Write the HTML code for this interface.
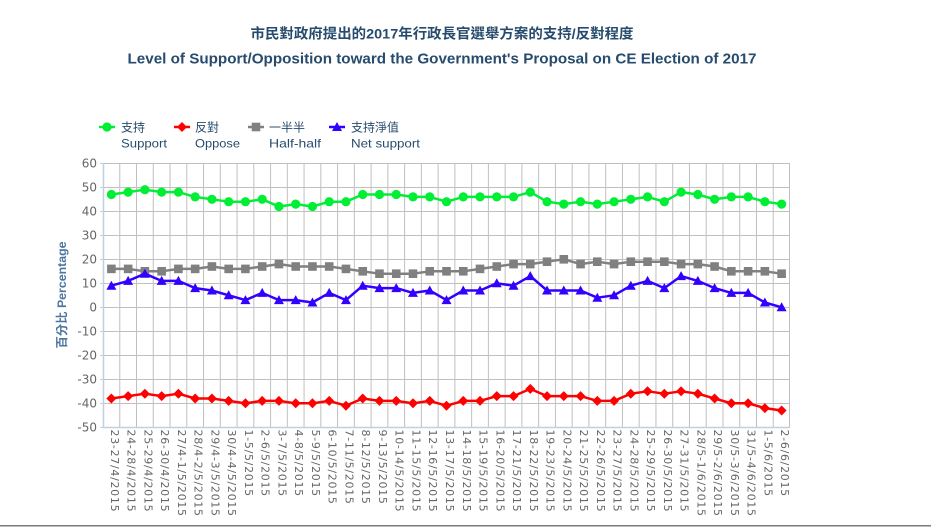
<!DOCTYPE html>
<html>
<head>
<meta charset="utf-8">
<style>
html,body{margin:0;padding:0;background:#fff;}
svg{display:block;}
.xl{font-family:"DejaVu Sans","Liberation Sans",sans-serif;font-size:11px;fill:#666;letter-spacing:0.7px;}
.yl{font-family:"DejaVu Sans","Liberation Sans",sans-serif;font-size:12px;fill:#666;text-anchor:end;}
.lg{font-family:"Liberation Sans","Noto Sans CJK TC",sans-serif;font-size:12px;fill:#274b6d;}
</style>
</head>
<body>
<svg width="931" height="527" viewBox="0 0 931 527" xmlns="http://www.w3.org/2000/svg">
<defs>
<marker id="mc" viewBox="-6 -6 12 12" refX="0" refY="0" markerWidth="12" markerHeight="12" markerUnits="userSpaceOnUse"><circle r="4.6" fill="#00ee33"/></marker>
<marker id="md" viewBox="-6 -6 12 12" refX="0" refY="0" markerWidth="12" markerHeight="12" markerUnits="userSpaceOnUse"><path d="M0,-5 L5,0 L0,5 L-5,0Z" fill="#ff0000"/></marker>
<marker id="ms" viewBox="-6 -6 12 12" refX="0" refY="0" markerWidth="12" markerHeight="12" markerUnits="userSpaceOnUse"><rect x="-4.3" y="-4.3" width="8.6" height="8.6" fill="#808080"/></marker>
<marker id="mt" viewBox="-6 -6 12 12" refX="0" refY="0" markerWidth="12" markerHeight="12" markerUnits="userSpaceOnUse"><path d="M0,-5 L5,4 L-5,4Z" fill="#3300ff"/></marker>
</defs>

<!-- Titles -->
<text x="442" y="38.5" text-anchor="middle" textLength="383" lengthAdjust="spacingAndGlyphs" style="font-family:'Liberation Sans','Noto Sans CJK TC',sans-serif;font-size:14px;font-weight:600;fill:#274b6d;">市民對政府提出的2017年行政長官選舉方案的支持/反對程度</text>
<text x="442" y="63.5" text-anchor="middle" textLength="629" lengthAdjust="spacingAndGlyphs" style="font-family:'Liberation Sans',sans-serif;font-size:15px;font-weight:bold;fill:#274b6d;">Level of Support/Opposition toward the Government's Proposal on CE Election of 2017</text>

<!-- Legend -->
<polyline points="99,127 107,127 115,127" fill="none" stroke="#00ee33" stroke-width="2.5" marker-mid="url(#mc)"/>
<polyline points="174,127 182,127 190,127" fill="none" stroke="#ff0000" stroke-width="2.5" marker-mid="url(#md)"/>
<polyline points="248,127 256,127 264,127" fill="none" stroke="#808080" stroke-width="2.5" marker-mid="url(#ms)"/>
<polyline points="329,127 337,127 345,127" fill="none" stroke="#3300ff" stroke-width="2.5" marker-mid="url(#mt)"/>
<text class="lg" x="121" y="131.5">支持</text>
<text class="lg" x="121" y="147.5" textLength="46" lengthAdjust="spacingAndGlyphs">Support</text>
<text class="lg" x="195" y="131.5">反對</text>
<text class="lg" x="195" y="147.5" textLength="45" lengthAdjust="spacingAndGlyphs">Oppose</text>
<text class="lg" x="269" y="131.5">一半半</text>
<text class="lg" x="269" y="147.5" textLength="52" lengthAdjust="spacingAndGlyphs">Half-half</text>
<text class="lg" x="351" y="131.5">支持淨值</text>
<text class="lg" x="351" y="147.5" textLength="69" lengthAdjust="spacingAndGlyphs">Net support</text>

<!-- Grid horizontal -->
<path d="M103,163.5H790M103,187.5H790M103,211.5H790M103,235.5H790M103,259.5H790M103,283.5H790M103,307.5H790M103,331.5H790M103,355.5H790M103,379.5H790M103,403.5H790" stroke="#c0c0c0" stroke-width="1" fill="none"/>
<!-- Grid vertical -->
<path d="M119.76,163.5V427.5M136.51,163.5V427.5M153.27,163.5V427.5M170.02,163.5V427.5M186.78,163.5V427.5M203.54,163.5V427.5M220.29,163.5V427.5M237.05,163.5V427.5M253.8,163.5V427.5M270.56,163.5V427.5M287.32,163.5V427.5M304.07,163.5V427.5M320.83,163.5V427.5M337.58,163.5V427.5M354.34,163.5V427.5M371.1,163.5V427.5M387.85,163.5V427.5M404.61,163.5V427.5M421.36,163.5V427.5M438.12,163.5V427.5M454.88,163.5V427.5M471.63,163.5V427.5M488.39,163.5V427.5M505.14,163.5V427.5M521.9,163.5V427.5M538.66,163.5V427.5M555.41,163.5V427.5M572.17,163.5V427.5M588.92,163.5V427.5M605.68,163.5V427.5M622.44,163.5V427.5M639.19,163.5V427.5M655.95,163.5V427.5M672.7,163.5V427.5M689.46,163.5V427.5M706.22,163.5V427.5M722.97,163.5V427.5M739.73,163.5V427.5M756.48,163.5V427.5M773.24,163.5V427.5M789.5,163.5V427.5" stroke="#c0c0c0" stroke-width="1" fill="none"/>

<!-- Axes -->
<path d="M103.5,163V428" stroke="#c0d0e0" stroke-width="1.5" fill="none"/>
<path d="M103,427.5H790" stroke="#c0d0e0" stroke-width="1.5" fill="none"/>
<path d="M100,163.5H103M100,187.5H103M100,211.5H103M100,235.5H103M100,259.5H103M100,283.5H103M100,307.5H103M100,331.5H103M100,355.5H103M100,379.5H103M100,403.5H103M100,427.5H103" stroke="#c0d0e0" stroke-width="1" fill="none"/>

<!-- Y labels -->
<text class="yl" x="97" y="167.5">60</text>
<text class="yl" x="97" y="191.5">50</text>
<text class="yl" x="97" y="215.5">40</text>
<text class="yl" x="97" y="239.5">30</text>
<text class="yl" x="97" y="263.5">20</text>
<text class="yl" x="97" y="287.5">10</text>
<text class="yl" x="97" y="311.5">0</text>
<text class="yl" x="97" y="335.5">-10</text>
<text class="yl" x="97" y="359.5">-20</text>
<text class="yl" x="97" y="383.5">-30</text>
<text class="yl" x="97" y="407.5">-40</text>
<text class="yl" x="97" y="431.5">-50</text>

<!-- Y axis title -->
<text transform="translate(66,295) rotate(-90)" text-anchor="middle" textLength="107" lengthAdjust="spacingAndGlyphs" style="font-family:'Liberation Sans','Noto Sans CJK TC',sans-serif;font-size:12px;font-weight:bold;fill:#4d759e;">百分比 Percentage</text>

<!-- Series: Half-half -->
<polyline fill="none" stroke="#808080" stroke-width="2.5" stroke-linejoin="round" marker-start="url(#ms)" marker-mid="url(#ms)" marker-end="url(#ms)" points="111.38,268.9 128.13,268.9 144.89,271.3 161.65,271.3 178.4,268.9 195.16,268.9 211.91,266.5 228.67,268.9 245.43,268.9 262.18,266.5 278.94,264.1 295.69,266.5 312.45,266.5 329.21,266.5 345.96,268.9 362.72,271.3 379.47,273.7 396.23,273.7 412.99,273.7 429.74,271.3 446.5,271.3 463.25,271.3 480.01,268.9 496.77,266.5 513.52,264.1 530.28,264.1 547.03,261.7 563.79,259.3 580.55,264.1 597.3,261.7 614.06,264.1 630.81,261.7 647.57,261.7 664.33,261.7 681.08,264.1 697.84,264.1 714.59,266.5 731.35,271.3 748.11,271.3 764.86,271.3 781.62,273.7"/>

<!-- Series: Support -->
<polyline fill="none" stroke="#00ee33" stroke-width="2.5" stroke-linejoin="round" marker-start="url(#mc)" marker-mid="url(#mc)" marker-end="url(#mc)" points="111.38,194.5 128.13,192.1 144.89,189.7 161.65,192.1 178.4,192.1 195.16,196.9 211.91,199.3 228.67,201.7 245.43,201.7 262.18,199.3 278.94,206.5 295.69,204.1 312.45,206.5 329.21,201.7 345.96,201.7 362.72,194.5 379.47,194.5 396.23,194.5 412.99,196.9 429.74,196.9 446.5,201.7 463.25,196.9 480.01,196.9 496.77,196.9 513.52,196.9 530.28,192.1 547.03,201.7 563.79,204.1 580.55,201.7 597.3,204.1 614.06,201.7 630.81,199.3 647.57,196.9 664.33,201.7 681.08,192.1 697.84,194.5 714.59,199.3 731.35,196.9 748.11,196.9 764.86,201.7 781.62,204.1"/>

<!-- Series: Oppose -->
<polyline fill="none" stroke="#ff0000" stroke-width="2.5" stroke-linejoin="round" marker-start="url(#md)" marker-mid="url(#md)" marker-end="url(#md)" points="111.38,398.5 128.13,396.1 144.89,393.7 161.65,396.1 178.4,393.7 195.16,398.5 211.91,398.5 228.67,400.9 245.43,403.3 262.18,400.9 278.94,400.9 295.69,403.3 312.45,403.3 329.21,400.9 345.96,405.7 362.72,398.5 379.47,400.9 396.23,400.9 412.99,403.3 429.74,400.9 446.5,405.7 463.25,400.9 480.01,400.9 496.77,396.1 513.52,396.1 530.28,388.9 547.03,396.1 563.79,396.1 580.55,396.1 597.3,400.9 614.06,400.9 630.81,393.7 647.57,391.3 664.33,393.7 681.08,391.3 697.84,393.7 714.59,398.5 731.35,403.3 748.11,403.3 764.86,408.1 781.62,410.5"/>

<!-- Series: Net support -->
<polyline fill="none" stroke="#3300ff" stroke-width="2.5" stroke-linejoin="round" marker-start="url(#mt)" marker-mid="url(#mt)" marker-end="url(#mt)" points="111.38,285.7 128.13,280.9 144.89,273.7 161.65,280.9 178.4,280.9 195.16,288.1 211.91,290.5 228.67,295.3 245.43,300.1 262.18,292.9 278.94,300.1 295.69,300.1 312.45,302.5 329.21,292.9 345.96,300.1 362.72,285.7 379.47,288.1 396.23,288.1 412.99,292.9 429.74,290.5 446.5,300.1 463.25,290.5 480.01,290.5 496.77,283.3 513.52,285.7 530.28,276.1 547.03,290.5 563.79,290.5 580.55,290.5 597.3,297.7 614.06,295.3 630.81,285.7 647.57,280.9 664.33,288.1 681.08,276.1 697.84,280.9 714.59,288.1 731.35,292.9 748.11,292.9 764.86,302.5 781.62,307.3"/>

<!-- X labels -->
<g class="xl">
<text transform="translate(110.9,429.5) rotate(90)">23-27/4/2015</text>
<text transform="translate(127.6,429.5) rotate(90)">24-28/4/2015</text>
<text transform="translate(144.4,429.5) rotate(90)">25-29/4/2015</text>
<text transform="translate(161.1,429.5) rotate(90)">26-30/4/2015</text>
<text transform="translate(177.9,429.5) rotate(90)">27/4-1/5/2015</text>
<text transform="translate(194.7,429.5) rotate(90)">28/4-2/5/2015</text>
<text transform="translate(211.4,429.5) rotate(90)">29/4-3/5/2015</text>
<text transform="translate(228.2,429.5) rotate(90)">30/4-4/5/2015</text>
<text transform="translate(244.9,429.5) rotate(90)">1-5/5/2015</text>
<text transform="translate(261.7,429.5) rotate(90)">2-6/5/2015</text>
<text transform="translate(278.4,429.5) rotate(90)">3-7/5/2015</text>
<text transform="translate(295.2,429.5) rotate(90)">4-8/5/2015</text>
<text transform="translate(312.0,429.5) rotate(90)">5-9/5/2015</text>
<text transform="translate(328.7,429.5) rotate(90)">6-10/5/2015</text>
<text transform="translate(345.5,429.5) rotate(90)">7-11/5/2015</text>
<text transform="translate(362.2,429.5) rotate(90)">8-12/5/2015</text>
<text transform="translate(379.0,429.5) rotate(90)">9-13/5/2015</text>
<text transform="translate(395.7,429.5) rotate(90)">10-14/5/2015</text>
<text transform="translate(412.5,429.5) rotate(90)">11-15/5/2015</text>
<text transform="translate(429.2,429.5) rotate(90)">12-16/5/2015</text>
<text transform="translate(446.0,429.5) rotate(90)">13-17/5/2015</text>
<text transform="translate(462.8,429.5) rotate(90)">14-18/5/2015</text>
<text transform="translate(479.5,429.5) rotate(90)">15-19/5/2015</text>
<text transform="translate(496.3,429.5) rotate(90)">16-20/5/2015</text>
<text transform="translate(513.0,429.5) rotate(90)">17-21/5/2015</text>
<text transform="translate(529.8,429.5) rotate(90)">18-22/5/2015</text>
<text transform="translate(546.5,429.5) rotate(90)">19-23/5/2015</text>
<text transform="translate(563.3,429.5) rotate(90)">20-24/5/2015</text>
<text transform="translate(580.0,429.5) rotate(90)">21-25/5/2015</text>
<text transform="translate(596.8,429.5) rotate(90)">22-26/5/2015</text>
<text transform="translate(613.6,429.5) rotate(90)">23-27/5/2015</text>
<text transform="translate(630.3,429.5) rotate(90)">24-28/5/2015</text>
<text transform="translate(647.1,429.5) rotate(90)">25-29/5/2015</text>
<text transform="translate(663.8,429.5) rotate(90)">26-30/5/2015</text>
<text transform="translate(680.6,429.5) rotate(90)">27-31/5/2015</text>
<text transform="translate(697.3,429.5) rotate(90)">28/5-1/6/2015</text>
<text transform="translate(714.1,429.5) rotate(90)">29/5-2/6/2015</text>
<text transform="translate(730.9,429.5) rotate(90)">30/5-3/6/2015</text>
<text transform="translate(747.6,429.5) rotate(90)">31/5-4/6/2015</text>
<text transform="translate(764.4,429.5) rotate(90)">1-5/6/2015</text>
<text transform="translate(781.1,429.5) rotate(90)">2-6/6/2015</text>
</g>

<!-- Bottom rule -->
<rect x="0" y="525" width="931" height="1.5" fill="#7a7a7a"/>
</svg>
</body>
</html>
